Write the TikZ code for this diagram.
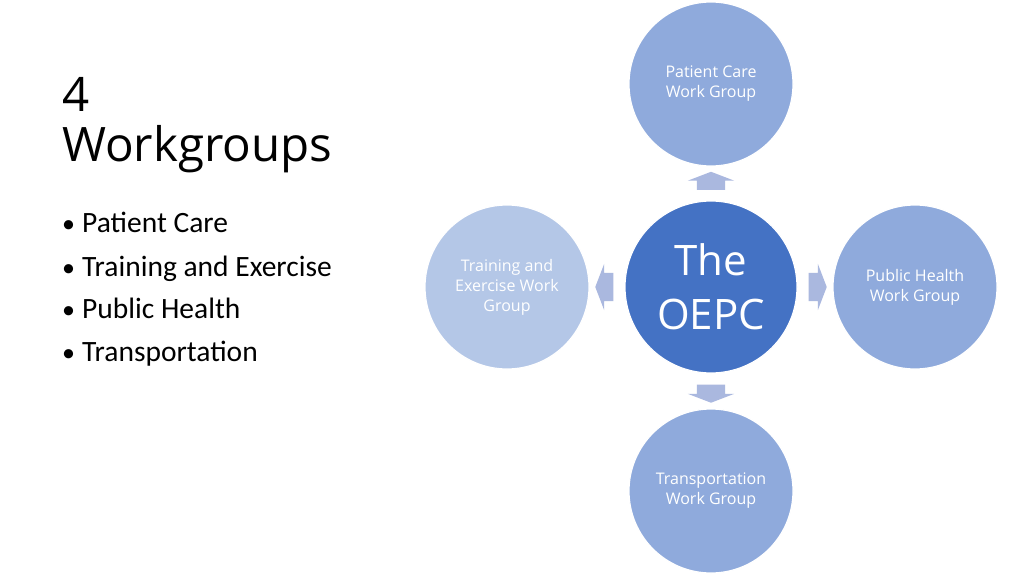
\documentclass[tikz,border=0pt]{standalone}
\usepackage{fontspec}
\setmainfont{Carlito}
\newfontfamily\opensans{Open Sans}
\usetikzlibrary{shapes.arrows}
\definecolor{hubblue}{RGB}{68,114,196}
\definecolor{groupblue}{RGB}{143,170,220}
\definecolor{paleblue}{RGB}{180,199,231}
\definecolor{arrowblue}{RGB}{170,184,223}
\begin{document}
\begin{tikzpicture}[x=1pt,y=-1pt,
	group/.style={circle,draw=white,line width=1.2pt,fill=groupblue,minimum size=164pt,inner sep=0pt,
		text=white,align=center,font=\opensans\fontsize{16}{20}\selectfont},
	blockarrow/.style={single arrow,fill=arrowblue,draw=none,minimum height=18pt,
		text width=0pt,text height=14pt,text depth=14pt,
		single arrow head extend=9pt,single arrow tip angle=138,inner sep=0pt}]
				\useasboundingbox [fill=white] (0,0) rectangle (1024,575);
				% title and list
				\node [anchor=base west,inner sep=0pt,font=\opensans\fontsize{47.5}{49}\selectfont] (four) at (62,112) {4};
				\node [anchor=base west,inner sep=0pt,font=\opensans\fontsize{47.5}{49}\selectfont] (wg) at (62,161) {Workgroups};
				\foreach \y/\txt in {232/Patient Care,276/Training and Exercise,318/Public Health,361/Transportation}{
					\node [anchor=base west,inner sep=0pt,font=\fontsize{26}{32}\selectfont] (dot\y) at (62,\y) {•};
					\node [anchor=base west,inner sep=0pt,font=\fontsize{29.5}{32}\selectfont] (item\y) at (82,\y) {\txt};
				}
				% circles
				\node [group,fill=hubblue,minimum size=172pt,font=\opensans\fontsize{42}{54}\selectfont] (oepc) at (711,287) {The\\OEPC};
				\node [group] (care) at (711,84) {Patient Care\\Work Group};
				\node [group,fill=paleblue] (train) at (507,287) {Training and\\Exercise Work\\Group};
				\node [group] (health) at (915,287) {Public Health\\Work Group};
				\node [group] (trans) at (711,491) {Transportation\\Work Group};
				% arrows
				\path (oepc) -- node [blockarrow,sloped,allow upside down] (upar) {} (care);
				\path (oepc) -- node [blockarrow,sloped,allow upside down] (leftar) {} (train);
				\path (oepc) -- node [blockarrow,sloped,allow upside down] (rightar) {} (health);
				\path (oepc) -- node [blockarrow,sloped,allow upside down] (downar) {} (trans);
			\end{tikzpicture}
\end{document}
